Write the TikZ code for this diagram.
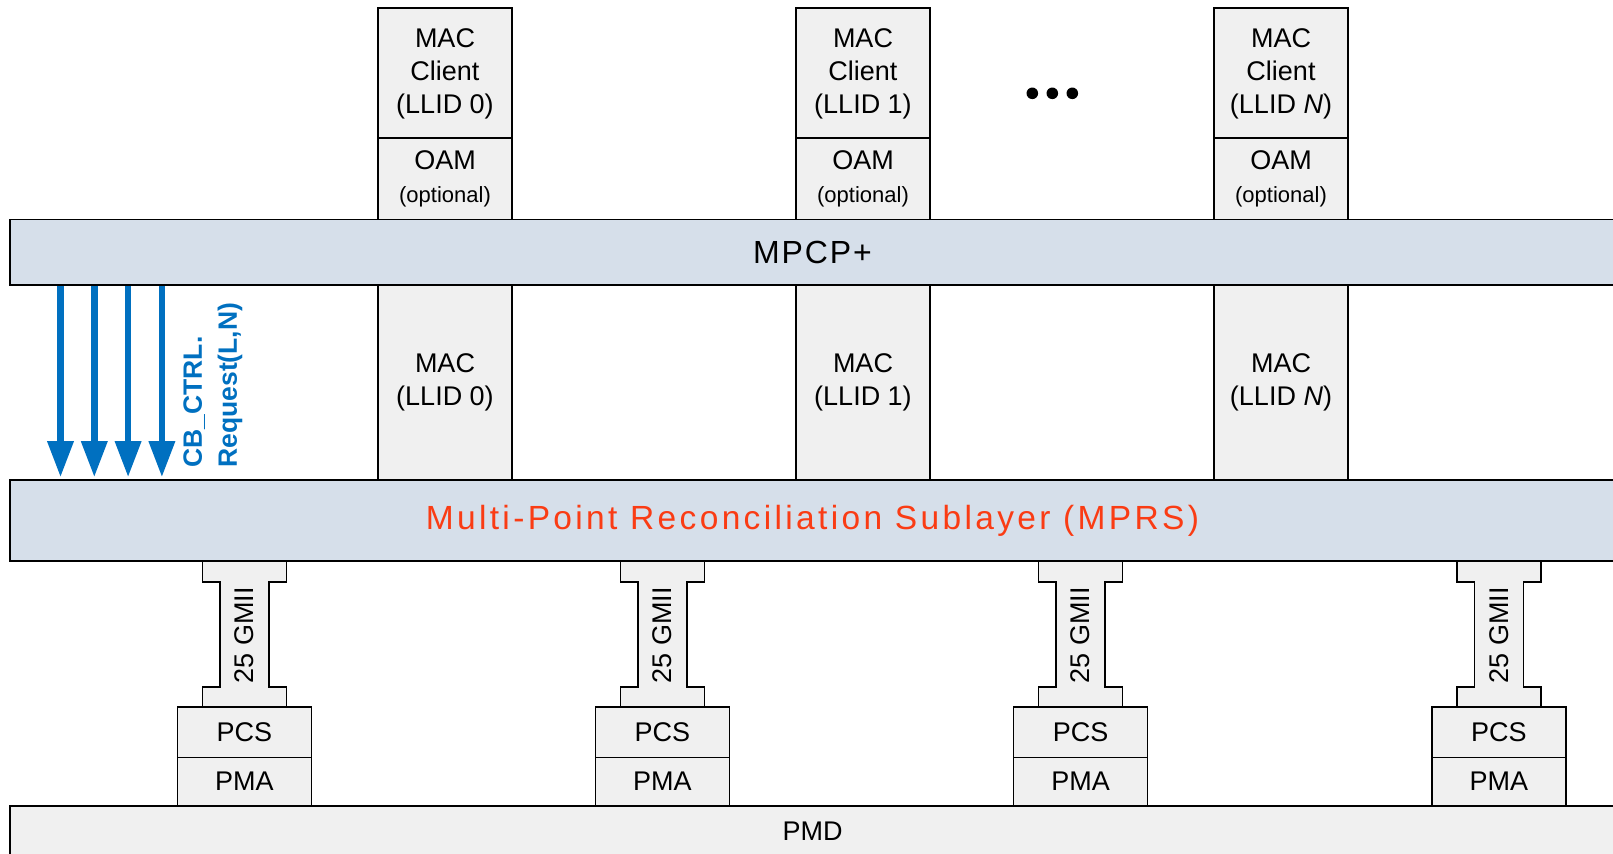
\documentclass[tikz,border=0pt]{standalone}
\usepackage{fontspec}
\setmainfont{Liberation Sans}
\newfontfamily\mpcpfont[LetterSpace=6]{Liberation Sans}
\newfontfamily\mprsfont[LetterSpace=10]{Liberation Sans}
\usetikzlibrary{arrows.meta}
\definecolor{boxgray}{RGB}{240,240,240}
\definecolor{barblue}{RGB}{214,223,234}
\definecolor{ctrlblue}{RGB}{0,112,192}
\definecolor{mprsred}{RGB}{250,60,20}
\begin{document}
\begin{tikzpicture}[
  x=0.5pt, y=-0.5pt,
  layer/.style={draw=black, line width=0.8pt, fill=boxgray, inner sep=0pt,
    align=center, font=\fontsize{13.5}{16.5}\selectfont},
  bar/.style={layer, fill=barblue, minimum width=802.5pt},
  col/.style={layer, minimum width=67pt},
  ishape/.style={draw=black, line width=0.8pt, fill=boxgray},
  ctrl/.style={draw=ctrlblue, line width=3.25pt, shorten >=1pt,
    -{Triangle[width=12.5pt,length=18pt]}},
  lbl/.style={inner sep=0pt, font=\fontsize{13.5}{16.5}\selectfont}
]
\useasboundingbox (0,0) rectangle (1613,853);

% sublayer bars spanning the full width
\node[bar, minimum height=32.85pt] (mpcp) at (812.5,252.15)
  {\mpcpfont\fontsize{16}{19}\selectfont MPCP+};
\node[bar, minimum height=40.35pt] (mprs) at (812.5,520.35)
  {\mprsfont\fontsize{16.75}{20}\selectfont\color{mprsred}Multi-Point Reconciliation Sublayer (MPRS)};
\node[layer, minimum width=802.5pt, minimum height=25pt] (pmd) at (812.5,831) {PMD};

% per-LLID stacks above the MPRS
\foreach \i/\cx/\lab in {0/445/0, 1/863/1, 2/1281/{\textit{N}}} {
  \node[col, minimum height=65.5pt] (client\i) at (\cx,73.5) {MAC\\Client\\(LLID \lab)};
  \node[col, minimum height=40.8pt] (oam\i) at (\cx,178.5)
    {OAM\\{\fontsize{11}{13}\selectfont(optional)}};
  \node[col, minimum height=97.5pt] (mac\i) at (\cx,382.5) {MAC\\(LLID \lab)};
}

% ellipsis between the clients
\fill (1032.3,93.3) circle[radius=2.9pt];
\fill (1052.3,93.3) circle[radius=2.9pt];
\fill (1072.3,93.3) circle[radius=2.9pt];

% 25GMII interfaces and PCS/PMA stacks
\foreach \j in {0,...,3} {
  \pgfmathsetmacro\gx{244.3+418.17*\j}
  \draw[ishape] (\gx-42,561) -- (\gx+42,561) -- (\gx+42,581.7) -- (\gx+24.5,581.7)
    -- (\gx+24.5,686.7) -- (\gx+42,686.7) -- (\gx+42,706.7) -- (\gx-42,706.7)
    -- (\gx-42,686.7) -- (\gx-24.5,686.7) -- (\gx-24.5,581.7) -- (\gx-42,581.7) -- cycle;
  \node[lbl, rotate=90] (gmii\j) at (\gx,635) {25 GMII};
  \node[col, minimum height=25.3pt] (pcs\j) at (\gx,732) {PCS};
  \node[col, minimum height=24.35pt] (pma\j) at (\gx,781.65) {PMA};
}

% CB_CTRL.Request arrows from MPCP+ down to the MPRS
\foreach \k/\ax in {1/60.5, 2/94.3, 3/128.1, 4/161.9} {
  \coordinate (a\k) at (\ax,0);
  \draw[ctrl] (mpcp.south -| a\k) -- (mprs.north -| a\k);
}
\node[rotate=90, anchor=north west, align=left, inner sep=0pt, text=ctrlblue,
  font=\bfseries\fontsize{13.25}{17.5}\selectfont] (cblabel) at (183,468)
  {CB\_CTRL.\\Request(L,N)};
\end{tikzpicture}
\end{document}
